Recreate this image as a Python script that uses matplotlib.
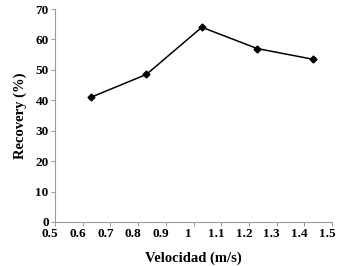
import matplotlib.pyplot as plt
from matplotlib.transforms import ScaledTranslation

# datos
velocidad = [0.63, 0.83, 1.03, 1.23, 1.43]
recovery = [41, 48.5, 64, 57, 53.5]
x_ticks = [0.5, 0.6, 0.7, 0.8, 0.9, 1, 1.1, 1.2, 1.3, 1.4, 1.5]
x_labels = ['0.5', '0.6', '0.7', '0.8', '0.9', '1', '1.1', '1.2', '1.3', '1.4', '1.5']
y_ticks = [0, 10, 20, 30, 40, 50, 60, 70]

plt.rcParams['font.family'] = 'Liberation Serif'
plt.rcParams['font.weight'] = 'bold'

fig = plt.figure(figsize=(3.45, 2.66), dpi=100)
ax = fig.add_axes([55 / 345, 1 - 222 / 266, 277 / 345, 213 / 266])

ax.plot(velocidad, recovery, color='black', linewidth=1.1,
        marker='D', markersize=3.5)

ax.set_xlim(0.5, 1.5)
ax.set_ylim(0, 70)
ax.set_xticks(x_ticks)
ax.set_xticklabels(x_labels)
ax.set_yticks(y_ticks)

for s in ['top', 'right']:
    ax.spines[s].set_visible(False)
for s in ['left', 'bottom']:
    ax.spines[s].set_color('#999999')
    ax.spines[s].set_linewidth(0.8)

ax.tick_params(axis='both', labelsize=9.5, length=3, width=0.7,
               color='#999999', pad=1.5)
# etiquetas del eje x algo corridas a la izquierda, como en el original
shift = ScaledTranslation(-5 / 100, 0, fig.dpi_scale_trans)
for lbl in ax.get_xticklabels():
    lbl.set_fontweight('bold')
    lbl.set_transform(lbl.get_transform() + shift)
for lbl in ax.get_yticklabels():
    lbl.set_fontweight('bold')

ax.set_xlabel('Velocidad (m/s)', fontsize=10.5, fontweight='bold', labelpad=8)
ax.set_ylabel('Recovery (%)', fontsize=10.5, fontweight='bold', labelpad=6)

fig.savefig('out.png', dpi=100)
